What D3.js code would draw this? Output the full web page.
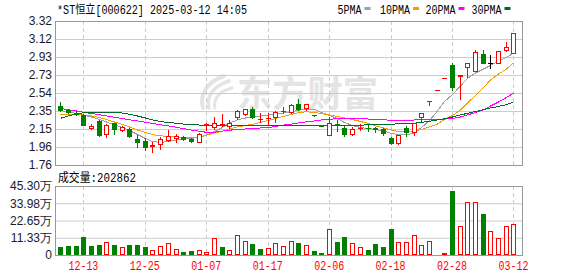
<!DOCTYPE html>
<html>
<head>
<meta charset="utf-8">
<script src="https://cdn.jsdelivr.net/npm/d3@7"></script>
<style>
body { margin: 0; background: #fff; }
svg { display: block; }
</style>
</head>
<body>
<svg id="chart" width="578" height="276"></svg>
<script>
// trading days shown
var dates = ["12-10","12-11","12-12","12-13","12-16","12-17","12-18","12-19","12-20","12-23",
  "12-24","12-25","12-26","12-27","12-30","12-31","01-02","01-03","01-06","01-07",
  "01-08","01-09","01-10","01-13","01-14","01-15","01-16","01-17","01-20","01-21",
  "01-22","01-23","01-24","01-27","02-05","02-06","02-07","02-10","02-11","02-12",
  "02-13","02-14","02-17","02-18","02-19","02-20","02-21","02-24","02-25","02-26",
  "02-27","02-28","03-03","03-04","03-05","03-06","03-07","03-10","03-11","03-12"];

var open = [2.40,2.36,2.325,2.30,2.165,2.24,2.10,2.21,2.14,2.15,
  2.04,2.02,1.965,1.99,2.03,2.05,2.06,2.04,2.01,2.195,
  2.17,2.20,2.18,2.28,2.31,2.37,2.255,2.265,2.28,2.345,
  2.33,2.42,2.375,2.305,2.19,2.085,2.20,2.16,2.10,2.16,
  2.165,2.16,2.145,2.05,2.00,2.165,2.12,2.275,2.45,2.57,
  2.70,2.84,2.725,2.825,2.78,2.96,2.86,2.87,3.01,2.97];
var high = [2.44,2.37,2.34,2.31,2.20,2.25,2.20,2.22,2.18,2.16,
  2.09,2.05,2.01,2.06,2.14,2.10,2.07,2.05,2.11,2.21,
  2.28,2.31,2.25,2.36,2.37,2.39,2.32,2.32,2.35,2.385,
  2.42,2.47,2.425,2.305,2.19,2.28,2.25,2.185,2.17,2.20,
  2.19,2.17,2.16,2.06,2.09,2.18,2.21,2.32,2.455,2.575,
  2.705,2.86,2.74,2.87,3.01,3.01,2.95,2.99,3.09,3.19];
var low = [2.34,2.32,2.30,2.19,2.15,2.07,2.06,2.10,2.13,2.06,
  1.96,1.92,1.90,1.93,2.02,2.01,2.03,2.01,2.01,2.14,
  2.15,2.18,2.16,2.26,2.30,2.27,2.23,2.19,2.23,2.32,
  2.32,2.355,2.36,2.295,2.18,2.08,2.13,2.07,2.09,2.14,
  2.13,2.12,2.08,1.99,1.99,2.07,2.08,2.23,2.41,2.57,
  2.70,2.57,2.48,2.71,2.78,2.86,2.81,2.87,2.99,2.97];
var close = [2.36,2.33,2.315,2.19,2.185,2.08,2.19,2.15,2.17,2.07,
  2.01,1.96,1.975,2.04,2.07,2.075,2.04,2.02,2.10,2.205,
  2.21,2.205,2.21,2.345,2.365,2.285,2.26,2.27,2.33,2.35,
  2.41,2.365,2.42,2.30,2.185,2.21,2.19,2.10,2.155,2.165,
  2.16,2.15,2.11,2.00,2.09,2.12,2.21,2.32,2.455,2.575,
  2.705,2.61,2.74,2.87,2.98,2.86,2.86,2.99,3.035,3.19];

// volume, in 万 shares
var volume = [5.4,5.9,5.9,12.0,5.9,6.6,8.3,6.6,5.0,6.6,
  6.6,5.4,3.3,5.6,7.7,3.7,2.2,2.6,3.3,2.0,
  10.9,5.2,3.3,13.1,9.2,7.2,3.7,4.6,7.9,5.9,
  9.2,8.1,6.6,2.8,1.5,16.9,8.5,11.8,7.7,5.0,
  3.3,7.2,5.5,17.1,8.3,8.3,12.9,6.3,9.2,0.4,
  1.3,42.0,19.0,34.6,34.6,26.9,15.5,11.2,19.0,20.2862];

var ma5 = [2.350,2.334,2.318,2.302,2.280,2.253,2.226,2.193,2.166,2.134,
  2.090,2.047,2.015,2.004,2.015,2.031,2.038,2.049,2.063,2.085,
  2.123,2.166,2.215,2.248,2.269,2.280,2.291,2.302,2.313,2.323,
  2.337,2.353,2.367,2.361,2.329,2.296,2.264,2.220,2.188,2.166,
  2.155,2.145,2.128,2.101,2.090,2.085,2.107,2.166,2.242,2.345,
  2.448,2.524,2.616,2.697,2.757,2.800,2.838,2.887,2.925,2.973];
var ma10 = [2.309,2.307,2.304,2.302,2.291,2.275,2.253,2.226,2.199,2.172,
  2.139,2.112,2.090,2.076,2.069,2.063,2.060,2.058,2.063,2.082,
  2.107,2.128,2.150,2.172,2.188,2.201,2.221,2.242,2.264,2.286,
  2.307,2.329,2.337,2.329,2.318,2.302,2.286,2.269,2.253,2.231,
  2.210,2.183,2.161,2.139,2.123,2.123,2.128,2.145,2.172,2.204,
  2.253,2.296,2.356,2.432,2.513,2.600,2.681,2.746,2.800,2.865];
var ma20 = [2.372,2.358,2.345,2.331,2.318,2.304,2.291,2.277,2.264,2.250,
  2.237,2.223,2.210,2.196,2.183,2.168,2.155,2.139,2.126,2.114,
  2.114,2.128,2.137,2.145,2.150,2.155,2.161,2.166,2.177,2.193,
  2.204,2.215,2.229,2.237,2.248,2.255,2.262,2.264,2.262,2.261,
  2.258,2.255,2.251,2.242,2.240,2.242,2.248,2.253,2.258,2.258,
  2.258,2.264,2.280,2.302,2.329,2.356,2.399,2.443,2.491,2.540];
var ma30 = [2.266,2.291,2.313,2.327,2.331,2.334,2.334,2.331,2.323,2.309,
  2.291,2.269,2.248,2.231,2.220,2.212,2.204,2.198,2.193,2.190,
  2.190,2.190,2.190,2.190,2.190,2.189,2.189,2.189,2.189,2.189,
  2.189,2.189,2.189,2.189,2.189,2.190,2.190,2.190,2.190,2.192,
  2.195,2.198,2.200,2.203,2.205,2.206,2.212,2.223,2.233,2.248,
  2.261,2.280,2.302,2.320,2.340,2.359,2.378,2.394,2.415,2.443];

var priceTicks = [3.32, 3.125, 2.93, 2.735, 2.54, 2.345, 2.15, 1.955, 1.76];
var priceLabels = ["3.32","3.12","2.93","2.73","2.54","2.35","2.15","1.96","1.76"];
var volTicks = [45.30, 33.975, 22.65, 11.325, 0];
var volLabels = ["45.30万","33.98万","22.65万","11.33万","0"];
var dateTicks = ["12-13","12-25","01-07","01-17","02-06","02-18","02-28","03-12"];
var maNames = ["5PMA","10PMA","20PMA","30PMA"];
var maSeries = [ma5, ma10, ma20, ma30];
var maColors = ["#a0a0a0","#f0a000","#ff00ff","#006a2a"];

var up = "#ff0000", down = "#008000", flat = "#000000";
var left = 55, right = 522, pTop = 21, pBottom = 165, vTop = 186, vBottom = 255;
var mono = "'Liberation Mono', 'Noto Sans CJK SC', monospace";
var sans = "'Liberation Sans', Arial, sans-serif";

var svg = d3.select("#chart");

var x = d3.scaleBand().domain(dates).range([56.5, 517.3]);
function cx(d) { return Math.round(x(d) + x.bandwidth() / 2) + 0.5; }

var y = d3.scaleLinear().domain([1.76, 3.32]).range([pBottom, pTop]);
var yv = d3.scaleLinear().domain([0, 45.30]).range([vBottom, vTop]);

// watermark
var wm = svg.append("g").attr("fill", "none").attr("stroke", "#e4e4e4").attr("stroke-linecap", "round");
wm.append("path").attr("d", "M203,108 C199,95 207,82 224,76").attr("stroke-width", 4);
wm.append("path").attr("d", "M209,108 C206,97 213,86 229,81").attr("stroke-width", 3.5);
wm.append("path").attr("d", "M215,108 C213,99 219,91 232,88").attr("stroke-width", 3);
svg.append("text")
  .attr("x", 237).attr("y", 107)
  .attr("textLength", 141).attr("lengthAdjust", "spacingAndGlyphs")
  .style("font", "bold 36px 'Noto Sans CJK SC'")
  .attr("fill", "#e4e4e4")
  .text("东方财富");

// price grid + labels
var yAxis = d3.axisLeft(y).tickValues(priceTicks)
  .tickFormat(function (d, i) { return priceLabels[i]; })
  .tickSize(-(right - left)).tickPadding(3);
var gy = svg.append("g").attr("transform", "translate(" + left + ",0)").call(yAxis);
gy.select(".domain").remove();
gy.selectAll("line").attr("stroke", "#cccccc");
gy.selectAll("text").attr("fill", "#1a1a2e").style("font", "12px " + sans);

var vAxis = d3.axisLeft(yv).tickValues(volTicks)
  .tickFormat(function (d, i) { return volLabels[i]; })
  .tickSize(-(right - left)).tickPadding(3);
var gv = svg.append("g").attr("transform", "translate(" + left + ",0)").call(vAxis);
gv.select(".domain").remove();
gv.selectAll("line").attr("stroke", "#cccccc");
gv.selectAll("text").attr("fill", "#1a1a2e").style("font", "12px " + sans);

// dashed verticals
[[pTop, pBottom], [vTop, vBottom]].forEach(function (r) {
  svg.append("g").selectAll("line")
    .data(dateTicks).enter().append("line")
    .attr("x1", cx).attr("x2", cx)
    .attr("y1", r[0]).attr("y2", r[1])
    .attr("stroke", "#cccccc")
    .attr("stroke-dasharray", "4,3");
});

// frames
[[pTop, pBottom], [vTop, vBottom]].forEach(function (r) {
  svg.append("rect")
    .attr("x", left + 0.5).attr("y", r[0] + 0.5)
    .attr("width", right - left).attr("height", r[1] - r[0])
    .attr("fill", "none").attr("stroke", "#999999");
});

function candleColor(i) {
  if (close[i] > open[i]) return up;
  if (close[i] < open[i]) return down;
  var pc = i > 0 ? close[i - 1] : open[i];
  return close[i] > pc ? up : (close[i] < pc ? down : flat);
}
function volColor(i) {
  if (i === 0) return candleColor(0);
  return close[i] >= close[i - 1] ? up : down;
}

// moving averages
var lineGen = d3.line()
  .x(function (d, i) { return cx(dates[i]); })
  .y(function (d) { return y(d); });
maSeries.forEach(function (s, k) {
  svg.append("path")
    .datum(s)
    .attr("d", lineGen)
    .attr("fill", "none")
    .attr("stroke", maColors[k])
    .attr("stroke-width", 1)
    .attr("shape-rendering", "crispEdges");
});

// candles
var idx = d3.range(dates.length);
var cg = svg.append("g").attr("shape-rendering", "crispEdges");
cg.selectAll(".wick").data(idx).enter().append("line")
  .attr("x1", function (i) { return cx(dates[i]); })
  .attr("x2", function (i) { return cx(dates[i]); })
  .attr("y1", function (i) { return Math.round(y(high[i])); })
  .attr("y2", function (i) { return Math.round(y(low[i])) + 1; })
  .attr("stroke", candleColor);

idx.forEach(function (i) {
  var c = cx(dates[i]);
  var yt = Math.round(y(Math.max(open[i], close[i])));
  var yb = Math.round(y(Math.min(open[i], close[i])));
  var col = candleColor(i);
  if (yb - yt < 1) {
    cg.append("line")
      .attr("x1", c - 2.5).attr("x2", c + 2.5)
      .attr("y1", yt + 0.5).attr("y2", yt + 0.5)
      .attr("stroke", col);
  } else if (col === up) {
    cg.append("rect")
      .attr("x", c - 2).attr("y", yt + 0.5)
      .attr("width", 4).attr("height", yb - yt)
      .attr("fill", "#fff").attr("stroke", col);
  } else {
    cg.append("rect")
      .attr("x", c - 2.5).attr("y", yt)
      .attr("width", 5).attr("height", yb - yt + 1)
      .attr("fill", col);
  }
});

// volume bars
var vg = svg.append("g").attr("shape-rendering", "crispEdges");
idx.forEach(function (i) {
  var c = cx(dates[i]);
  var yt = Math.round(yv(volume[i]));
  var col = volColor(i);
  if (col === up) {
    vg.append("rect")
      .attr("x", c - 2).attr("y", yt + 0.5)
      .attr("width", 4).attr("height", Math.max(0, vBottom - yt - 1))
      .attr("fill", "#fff").attr("stroke", col);
  } else {
    vg.append("rect")
      .attr("x", c - 2.5).attr("y", yt)
      .attr("width", 5).attr("height", vBottom - yt)
      .attr("fill", col);
  }
});

// date labels
var xAxis = d3.axisBottom(x).tickValues(dateTicks).tickSize(0).tickPadding(6);
var gx = svg.append("g").attr("transform", "translate(0," + vBottom + ")").call(xAxis);
gx.select(".domain").remove();
gx.selectAll("text")
  .attr("fill", "#ff0000")
  .attr("textLength", 30).attr("lengthAdjust", "spacingAndGlyphs")
  .style("font", "12px " + mono);

// title
svg.append("text")
  .attr("x", 57).attr("y", 13.5)
  .attr("textLength", 190).attr("lengthAdjust", "spacingAndGlyphs")
  .style("font", "12px " + mono)
  .attr("fill", "#000")
  .text("*ST恒立[000622] 2025-03-12 14:05");

// legend
var legX = [337.5, 380, 425.5, 471.5];
maNames.forEach(function (n, k) {
  svg.append("text")
    .attr("x", legX[k]).attr("y", 13.5)
    .attr("textLength", n.length * 6).attr("lengthAdjust", "spacingAndGlyphs")
    .style("font", "12px " + mono)
    .attr("fill", "#000")
    .text(n);
  svg.append("rect")
    .attr("x", legX[k] + n.length * 6 + 3).attr("y", 7)
    .attr("width", 6).attr("height", 3)
    .attr("fill", maColors[k]);
});

// volume header (last day's volume in shares)
svg.append("text")
  .attr("x", 58).attr("y", 182)
  .attr("textLength", 78).attr("lengthAdjust", "spacingAndGlyphs")
  .style("font", "12px " + mono)
  .attr("fill", "#000")
  .text("成交量:" + Math.round(volume[volume.length - 1] * 10000));
</script>
</body>
</html>
